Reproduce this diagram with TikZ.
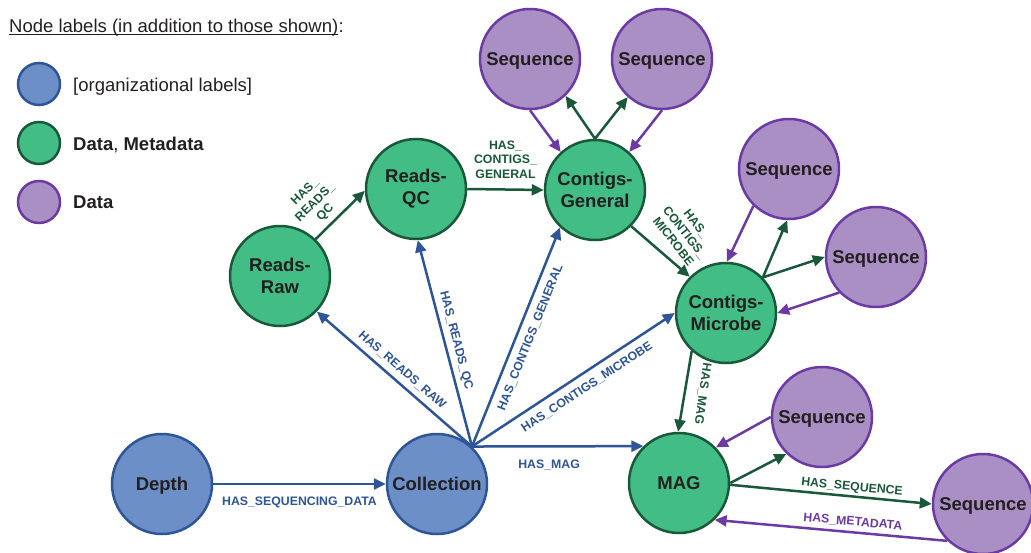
\documentclass[tikz,border=0pt]{standalone}
\usepackage{fontspec}
\setmainfont{Liberation Sans}
\usetikzlibrary{arrows.meta,calc}
\definecolor{bluefill}{RGB}{108,143,200}
\definecolor{blueline}{RGB}{46,85,151}
\definecolor{greenfill}{RGB}{66,189,133}
\definecolor{greenline}{RGB}{26,88,58}
\definecolor{purplefill}{RGB}{170,143,196}
\definecolor{purpleline}{RGB}{108,58,164}
\definecolor{txt}{RGB}{35,31,32}
\newcommand\nodefnt{\bfseries\fontsize{18.5}{22}\selectfont}
\newcommand\labfnt{\bfseries\fontsize{12.3}{14.5}\selectfont}
\newcommand\legfnt{\fontsize{18.5}{22}\selectfont}
\begin{document}
\begin{tikzpicture}[x=1pt,y=-1pt,
  basenode/.style={circle, line width=2.5pt, minimum size=100pt, inner sep=0pt, align=center, text=txt, font=\nodefnt},
  bnode/.style={basenode, draw=blueline, fill=bluefill},
  gnode/.style={basenode, draw=greenline, fill=greenfill},
  pnode/.style={basenode, draw=purpleline, fill=purplefill, text depth=0pt},
  legnode/.style={circle, line width=2.5pt, minimum size=42pt, inner sep=0pt},
  tip/.style={-{Triangle[length=12pt,width=11pt]}},
  bedge/.style={draw=blueline, line width=2.5pt, tip},
  gedge/.style={draw=greenline, line width=2.5pt, tip},
  pedge/.style={draw=purpleline, line width=2.5pt, tip},
  lab/.style={font=\labfnt, inner sep=7pt, text height=9pt, text depth=0pt},
  blab/.style={lab, text=blueline},
  glab/.style={lab, text=greenline},
  plab/.style={lab, text=purpleline},
  gmlab/.style={font=\labfnt, align=center, text=greenline},
  legtext/.style={anchor=base west, inner sep=0pt, text=txt, font=\legfnt}
]
\useasboundingbox (0,0) rectangle (1031,552);

% legend
\node[legtext] (title) at (9,32.3) {Node labels (in addition to those shown)};
\node[legtext] (colon) at (title.base east) {:};
\draw[txt, line width=1.4pt] ([yshift=-2pt]title.base west) -- ([yshift=-2pt]title.base east);
\node[legnode, draw=blueline, fill=bluefill] (L1) at (39,84) {};
\node[legnode, draw=greenline, fill=greenfill] (L2) at (39,143) {};
\node[legnode, draw=purpleline, fill=purplefill] (L3) at (39,202) {};
\node[legtext] (L1t) at (73,91.5) {[organizational labels]};
\node[legtext] (L2t) at (73,150) {\textbf{Data}, \textbf{Metadata}};
\node[legtext] (L3t) at (73,208.5) {\textbf{Data}};

% nodes
\node[bnode, text depth=0pt] (DEP) at (162,484) {Depth};
\node[bnode] (COL) at (437,484) {Collection};
\node[gnode] (RR) at (280,276) {Reads-\\Raw};
\node[gnode] (RQ) at (416,189) {Reads-\\QC};
\node[gnode] (CG) at (595,190) {Contigs-\\General};
\node[gnode] (CM) at (726,313) {Contigs-\\Microbe};
\node[gnode] (MAG) at (679,483) {MAG};
\node[pnode] (S1) at (530,59) {Sequence};
\node[pnode] (S2) at (662,59) {Sequence};
\node[pnode] (S3) at (789,169) {Sequence};
\node[pnode] (S4) at (876,257) {Sequence};
\node[pnode] (S5) at (822,417) {Sequence};
\node[pnode] (S6) at (983,504) {Sequence};

% green edges
\draw[gedge] (RR.46) -- (RQ.182)
  node[pos=0.37, sloped, anchor=south, gmlab, inner sep=5pt] {HAS\_\\READS\_\\QC};
\draw[gedge] (RQ.east) -- (CG.west)
  node[midway, anchor=south, gmlab, inner sep=10pt] {HAS\_\\CONTIGS\_\\GENERAL};
\draw[gedge] (CG.-45) -- (CM.135)
  node[midway, rotate=-52, anchor=south, gmlab, inner sep=11pt] {HAS\_\\CONTIGS\_\\MICROBE};
\draw[gedge] (CM.228) -- (MAG.91)
  node[midway, rotate=-98, anchor=south, glab, inner sep=13pt] {HAS\_MAG};
\draw[gedge] (CG.90) -- (S1.-46);
\draw[gedge] (CG.90) -- (S2.228);
\draw[gedge] (CM.44) -- (S3.268);
\draw[gedge] (CM.44) -- (S4.180);
\draw[gedge] (MAG.0) -- (S5.226);
\draw[gedge] (MAG.-2) -- (S6.180)
  node[pos=0.6, sloped, anchor=south, glab, inner sep=4.5pt] {HAS\_SEQUENCE};

% purple edges
\draw[pedge] (S1.-90) -- (CG.132);
\draw[pedge] (S2.-90) -- (CG.48);
\draw[pedge] (S3.226) -- (CM.89);
\draw[pedge] (S4.224) -- (CM.0);
\draw[pedge] (S5.180) -- (MAG.44);
\draw[pedge] (S6.226) -- (MAG.-46)
  node[pos=0.41, sloped, anchor=south, plab, inner sep=5.5pt] {HAS\_METADATA};

% blue edges
\coordinate (P) at (COL.47);
\draw[bedge] (P) -- (RR.-44)
  node[pos=0.5, sloped, anchor=south, blab] {HAS\_READS\_RAW};
\draw[bedge] (P) -- (RQ.-88)
  node[pos=0.5, sloped, anchor=south, blab] {HAS\_READS\_QC};
\draw[bedge] (P) -- (CG.227)
  node[pos=0.52, sloped, anchor=north, blab] {HAS\_CONTIGS\_GENERAL};
\draw[bedge] (P) -- (CM.180)
  node[pos=0.53, sloped, anchor=north, blab] {HAS\_CONTIGS\_MICROBE};
\draw[bedge] (P) -- (MAG.134)
  node[pos=0.45, anchor=north, blab, inner sep=11.5pt] {HAS\_MAG};
\draw[bedge] (DEP.east) -- (COL.west)
  node[midway, anchor=north, blab, inner sep=11.5pt] {HAS\_SEQUENCING\_DATA};
\end{tikzpicture}
\end{document}
